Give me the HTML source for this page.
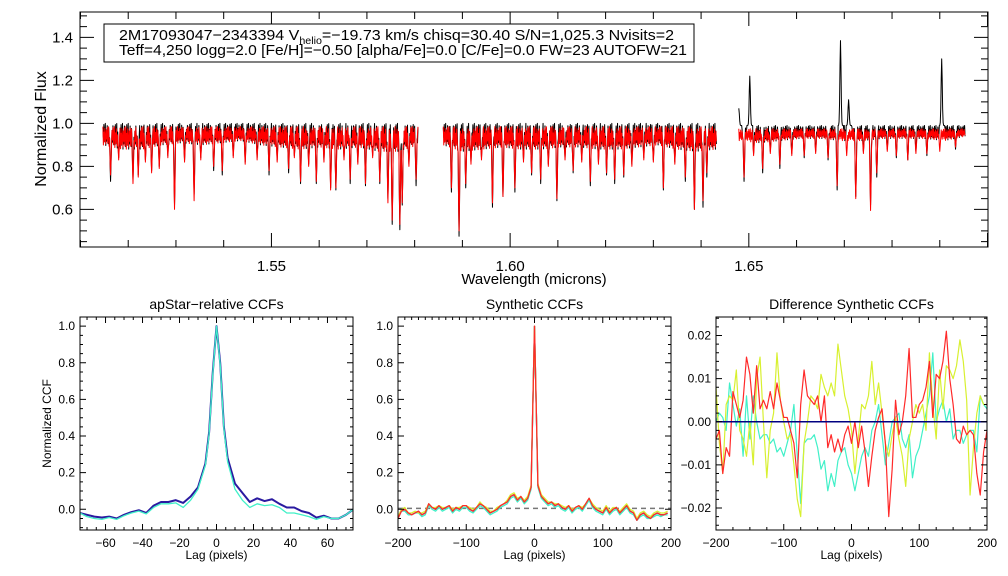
<!DOCTYPE html>
<html><head><meta charset="utf-8"><style>
html,body{margin:0;padding:0;background:#fff;}
svg{display:block;font-family:"Liberation Sans",sans-serif;}
</style></head><body>
<svg id="fig" width="1008" height="576" viewBox="0 0 1008 576" xmlns="http://www.w3.org/2000/svg">
<rect x="0" y="0" width="1008" height="576" fill="#fff"/>
<g id="top"></g>
<g id="p1"></g>
<g id="p2"></g>
<g id="p3"></g>
</svg>
<script>
// ---------- Spectrum data ----------
const chipStart = [1.5147, 1.5860, 1.6479];
const chipEnd   = [1.5807, 1.6432, 1.6953];
const chipContRed   = [0.985, 0.985, 0.975];
const chipContBlack = [1.0, 1.0, 0.99];
const envChip1 = [0.90,0.88,0.88,0.90,0.91,0.90,0.91,0.92,0.90,0.89,0.88,0.89,0.88,0.89,0.87,0.87,0.90];
const envChip2 = [0.90,0.87,0.88,0.89,0.88,0.88,0.89,0.89,0.88,0.88,0.89,0.90,0.88,0.87,0.88];
const envChip3 = [0.92,0.91,0.92,0.93,0.93,0.92,0.92,0.93,0.93,0.93,0.92,0.94];
const lineWave = [1.5163,1.5210,1.5221,1.5249,1.5265,1.5297,1.5338,1.5379,1.5397,1.5495,1.5536,1.5561,1.5594,1.5624,1.5635,1.5665,1.5697,1.5727,1.5744,1.5753,1.5769,1.5774,1.5803,
 1.5877,1.5893,1.5907,1.5963,1.5985,1.6010,1.6045,1.6064,1.6098,1.6132,1.6168,1.6202,1.6219,1.6238,1.6321,1.6367,1.6386,1.6404,1.6412,
 1.6490,1.6510,1.6529,1.6565,1.6616,1.6666,1.6685,1.6724,1.6755,1.6768,1.6809,1.6833,1.6873,1.6933,
 1.5180,1.5236,1.5283,1.5318,1.5352,1.5420,1.5445,1.5470,1.5512,1.5548,1.5578,1.5610,1.5652,1.5681,1.5712,1.5788,1.5918,1.5940,1.6028,1.6080,1.6115,1.6150,1.6185,1.6255,1.6280,1.6300,1.6345,1.6545,1.6590,1.6640,1.6705,1.6740,1.6790,1.6850,1.6900];
const lineMinRed = [0.76,0.72,0.75,0.77,0.79,0.60,0.64,0.80,0.78,0.78,0.79,0.73,0.73,0.69,0.70,0.74,0.72,0.73,0.63,0.55,0.53,0.63,0.74,
 0.70,0.50,0.72,0.63,0.66,0.70,0.77,0.74,0.65,0.78,0.73,0.77,0.74,0.76,0.70,0.75,0.60,0.64,0.77,
 0.75,0.85,0.79,0.81,0.85,0.84,0.71,0.65,0.595,0.77,0.85,0.83,0.86,0.89,
 0.83,0.82,0.84,0.82,0.83,0.84,0.81,0.83,0.82,0.84,0.80,0.82,0.83,0.81,0.84,0.80,0.81,0.83,0.82,0.80,0.83,0.82,0.81,0.80,0.83,0.82,0.81,0.86,0.85,0.86,0.85,0.86,0.87,0.86,0.87];
const lineMinBlack = [0.73,0.74,0.76,0.78,0.80,0.62,0.67,0.78,0.76,0.76,0.77,0.72,0.72,0.70,0.69,0.72,0.71,0.72,0.65,0.53,0.505,0.62,0.71,
 0.68,0.475,0.70,0.61,0.66,0.68,0.76,0.72,0.64,0.77,0.71,0.76,0.72,0.75,0.69,0.73,0.60,0.61,0.75,
 0.73,0.86,0.77,0.79,0.84,0.83,0.69,0.66,0.62,0.75,0.84,0.83,0.85,0.88,
 0.84,0.83,0.85,0.83,0.84,0.85,0.82,0.84,0.83,0.85,0.81,0.83,0.84,0.82,0.85,0.81,0.82,0.84,0.83,0.81,0.84,0.83,0.82,0.81,0.84,0.83,0.82,0.87,0.86,0.87,0.86,0.87,0.88,0.87,0.88];
const spikeWave = [1.6479,1.6502,1.6692,1.6709,1.6904];
const spikePeak = [1.07,1.22,1.385,1.11,1.30];
const topXTicks = ["1.55","1.60","1.65"];
const topYTicks = ["0.6","0.8","1.0","1.2","1.4"];

// ---------- CCF data ----------
const p1Lag = [-74,-70,-66,-62,-58,-54,-50,-46,-42,-38,-34,-30,-26,-22,-18,-14,-10,-6,-4,-2,0,2,4,6,10,14,18,22,26,30,34,38,42,46,50,54,58,62,66,70,74];
const p1Blue = [-0.02,-0.03,-0.04,-0.045,-0.04,-0.05,-0.03,-0.015,-0.005,-0.02,0.02,0.04,0.04,0.05,0.035,0.07,0.12,0.25,0.42,0.75,1.0,0.8,0.45,0.28,0.14,0.09,0.04,0.06,0.045,0.055,0.03,0.01,0.01,-0.01,-0.02,-0.045,-0.035,-0.05,-0.05,-0.03,0.0];
const p1Cyan = [-0.02,-0.04,-0.05,-0.055,-0.045,-0.055,-0.035,-0.02,-0.01,-0.025,0.01,0.03,0.03,0.035,0.01,0.05,0.11,0.24,0.41,0.74,1.0,0.79,0.44,0.26,0.11,0.05,0.01,0.03,0.02,0.025,0.01,-0.02,-0.02,-0.03,-0.04,-0.055,-0.04,-0.05,-0.05,-0.03,0.0];
const p1XTicks = [-60,-40,-20,0,20,40,60];
const p1YTicks = ["0.0","0.2","0.4","0.6","0.8","1.0"];

const p2Lag = [-200,-195,-190,-185,-180,-175,-170,-165,-160,-155,-150,-145,-140,-135,-130,-125,-120,-115,-110,-105,-100,-95,-90,-85,-80,-75,-70,-65,-60,-55,-50,-45,-40,-35,-30,-25,-20,-15,-10,-5,0,5,10,15,20,25,30,35,40,45,50,55,60,65,70,75,80,85,90,95,100,105,110,115,120,125,130,135,140,145,150,155,160,165,170,175,180,185,190,195,200];
const p2Red = [-0.05,-0.01,0.0,-0.02,-0.03,-0.02,-0.01,-0.03,-0.02,0.03,0.01,0.0,0.02,0.0,0.01,0.02,-0.01,0.01,0.0,0.02,
 0.02,0.0,-0.01,0.01,0.03,0.02,0.0,-0.02,-0.01,0.0,0.02,0.03,0.04,0.07,0.08,0.05,0.07,0.04,0.06,0.12,
 1.0,0.13,0.07,0.05,0.03,0.04,0.02,0.03,0.01,0.0,0.02,-0.01,0.01,0.02,0.0,0.03,0.06,0.02,0.0,-0.01,
 -0.02,0.01,-0.02,0.0,0.01,-0.02,0.0,0.02,-0.01,-0.02,-0.06,-0.03,-0.02,-0.04,-0.05,-0.03,-0.02,-0.03,-0.03,-0.02];
const p2Yellow = [-0.04,0.0,0.01,-0.02,-0.02,-0.01,-0.02,-0.02,-0.01,0.03,0.01,0.01,0.02,0.01,0.01,0.02,0.0,0.01,0.01,0.02,
 0.02,0.01,0.0,0.01,0.04,0.02,0.01,-0.01,-0.01,0.01,0.02,0.03,0.05,0.08,0.09,0.06,0.07,0.05,0.07,0.13,
 1.0,0.14,0.08,0.06,0.04,0.04,0.03,0.03,0.02,0.01,0.02,0.0,0.01,0.02,0.01,0.03,0.06,0.03,0.01,0.0,
 -0.01,0.02,-0.01,0.01,0.01,-0.01,0.01,0.03,0.0,-0.01,-0.05,-0.02,-0.01,-0.03,-0.04,-0.02,-0.01,-0.02,-0.02,-0.01];
const p2Cyan = [-0.05,-0.01,-0.01,-0.03,-0.03,-0.02,-0.02,-0.04,-0.03,0.02,0.0,-0.01,0.01,-0.01,0.0,0.01,-0.02,0.0,-0.01,0.01,
 0.01,-0.01,-0.02,0.0,0.02,0.01,-0.01,-0.03,-0.02,-0.01,0.01,0.02,0.03,0.06,0.07,0.04,0.06,0.03,0.05,0.11,
 1.0,0.12,0.06,0.04,0.02,0.03,0.01,0.02,0.0,-0.01,0.01,-0.02,0.0,0.01,-0.01,0.02,0.05,0.01,-0.01,-0.02,
 -0.03,0.0,-0.03,-0.01,0.0,-0.03,-0.01,0.01,-0.02,-0.03,-0.06,-0.04,-0.03,-0.05,-0.05,-0.04,-0.03,-0.04,-0.03,-0.03];
const p2Blue = [-0.05,-0.01,0.0,-0.02,-0.03,-0.02,-0.01,-0.03,-0.02,0.03,0.01,0.0,0.02,0.0,0.01,0.02,-0.01,0.01,0.0,0.02,
 0.02,0.0,-0.01,0.01,0.03,0.02,0.0,-0.02,-0.01,0.0,0.02,0.03,0.04,0.07,0.08,0.05,0.07,0.04,0.06,0.12,
 1.0,0.13,0.07,0.05,0.03,0.04,0.02,0.03,0.01,0.0,0.02,-0.01,0.01,0.02,0.0,0.03,0.06,0.02,0.0,-0.01,
 -0.02,0.01,-0.02,0.0,0.01,-0.02,0.0,0.02,-0.01,-0.02,-0.06,-0.03,-0.02,-0.04,-0.05,-0.03,-0.02,-0.03,-0.03,-0.02];
const p2XTicks = [-200,-100,0,100,200];
const p2YTicks = ["0.0","0.2","0.4","0.6","0.8","1.0"];

const p3Lag = p2Lag;
const p3Red = [-0.004,-0.002,-0.012,-0.006,-0.008,0.007,0.004,0.001,0.005,0.015,0.011,0.002,0.013,0.003,0.005,0.003,0.007,0.003,0.009,0.005,
 0.001,0.001,-0.002,-0.005,-0.013,0.004,0.012,0.006,0.005,0.004,0.006,0.0,0.006,-0.006,-0.003,-0.007,-0.004,-0.007,-0.003,-0.001,
 -0.005,0.0,-0.006,-0.001,-0.007,-0.015,-0.008,-0.002,0.001,0.003,-0.005,-0.022,-0.011,0.005,-0.003,0.0,0.006,0.017,0.001,0.001,
 0.004,0.005,0.008,0.014,0.001,0.011,0.01,0.014,0.021,0.01,0.004,-0.004,-0.005,-0.001,-0.003,-0.002,-0.003,-0.012,-0.017,-0.007,-0.002];
const p3Yellow = [0.008,-0.005,-0.012,0.004,0.006,0.005,0.012,-0.002,-0.004,-0.008,0.0,-0.01,0.01,0.015,0.0,-0.013,-0.002,0.002,0.016,0.005,
 0.0,-0.004,-0.003,-0.01,-0.018,-0.022,-0.005,0.0,0.006,0.005,0.003,0.011,0.008,0.006,0.009,0.006,0.018,0.012,0.006,0.003,
 -0.002,-0.012,-0.004,0.004,0.003,0.006,0.014,0.004,0.009,0.002,-0.005,-0.008,-0.003,0.001,-0.004,-0.008,-0.015,-0.004,0.0,0.004,
 0.002,0.004,-0.002,0.016,0.004,-0.004,0.012,0.003,0.013,0.012,0.01,0.013,0.019,0.014,0.005,-0.017,-0.006,0.002,0.006,0.004,0.004];
const p3Cyan = [0.0,0.002,0.001,-0.002,0.009,0.004,-0.001,0.003,-0.008,0.006,-0.004,0.006,0.0,-0.004,-0.003,-0.003,-0.005,-0.004,-0.007,-0.006,
 -0.008,-0.005,-0.002,0.004,-0.008,-0.019,-0.005,-0.004,-0.004,-0.003,-0.006,-0.011,-0.009,-0.016,-0.012,-0.015,-0.009,-0.007,-0.006,-0.01,
 -0.012,-0.016,-0.012,-0.008,-0.006,-0.008,-0.002,0.0,0.004,-0.003,-0.01,-0.005,0.0,0.001,0.002,-0.004,-0.006,-0.003,-0.013,-0.008,
 -0.006,-0.002,0.002,0.006,0.016,0.0,0.003,0.005,0.0,0.003,-0.004,-0.002,-0.002,-0.005,-0.003,-0.002,-0.002,-0.007,0.006,0.004,0.003];
const p3XTicks = [-200,-100,0,100,200];
const p3YTicks = ["-0.02","-0.01","0.00","0.01","0.02"];

// ---------- helpers ----------
const NS = "http://www.w3.org/2000/svg";
function el(parent, tag, attrs){ const e=document.createElementNS(NS,tag); for(const k in attrs) e.setAttribute(k,attrs[k]); parent.appendChild(e); return e; }
function linScale(d0,d1,r0,r1){ return v => r0 + (v-d0)*(r1-r0)/(d1-d0); }

function frame(g, X0,X1,Y0,Y1, xs, ys, xmaj, xmin, ymaj, ymin, Lmaj, Lmin, xr, yr){
  const r = el(g,'rect',{x:X0,y:Y0,width:X1-X0,height:Y1-Y0,fill:'none',stroke:'#000','stroke-width':1});
  
  
  let d='';
  const eps=1e-9;
  for(let v=Math.ceil(xr[0]/xmin-eps)*xmin; v<=xr[1]+eps; v+=xmin){
    const isMaj = Math.abs(v/xmaj-Math.round(v/xmaj))<1e-6;
    const L=isMaj?Lmaj:Lmin, x=xs(v);
    d+=`M${x},${Y1}v${-L}M${x},${Y0}v${L}`;
  }
  for(let v=Math.ceil(yr[0]/ymin-eps)*ymin; v<=yr[1]+eps; v+=ymin){
    const isMaj = Math.abs(v/ymaj-Math.round(v/ymaj))<1e-6;
    const L=isMaj?Lmaj:Lmin, y=ys(v);
    d+=`M${X0},${y}h${L}M${X1},${y}h${-L}`;
  }
  const t = el(g,'path',{d:d,stroke:'#000','stroke-width':1,fill:'none'});
  
  
}
function label(g, x, y, txt, size, anchor, name){
  const t = el(g,'text',{x:x,y:y,'font-size':size,'text-anchor':anchor||'middle',fill:'#000'});
  t.textContent = txt;
  
  
  return t;
}
function polyline(g, pts, color, width, name){
  const p = el(g,'polyline',{points:pts.map(p=>p[0].toFixed(2)+','+p[1].toFixed(2)).join(' '),fill:'none',stroke:color,'stroke-width':width,'stroke-linejoin':'round'});
  
  
  return p;
}

// ---------- top spectrum ----------
(function(){
  const g = document.getElementById('top');
  const X0=80,X1=988,Y0=12,Y1=247;
  const xr=[1.5099,1.7001], yr=[0.425,1.518];
  const xs=linScale(xr[0],xr[1],X0,X1), ys=linScale(yr[0],yr[1],Y1,Y0);
  const envs=[envChip1,envChip2,envChip3];
  const pattern=[0,1,0.3,0.8,0.1,0.55,0.9,0.2,0.65,0.05,0.85,0.4];
  const sig=0.00012;
  function spectrum(c, cont, mins, phase, withSpikes){
    const pts=[]; const env=envs[c];
    const a=chipStart[c], b=chipEnd[c]; let i=0;
    for(let w=a; w<=b+1e-9; w+=0.0001, i++){
      const fpos=(w-a)/(b-a)*(env.length-1);
      const k=Math.min(env.length-2,Math.floor(fpos)), fr=fpos-k;
      const e=env[k]*(1-fr)+env[k+1]*fr;
      let f=cont-(cont-e)*pattern[(i+phase)%pattern.length];
      for(let j=0;j<lineWave.length;j++){
        const dw=w-lineWave[j]; if(Math.abs(dw)>0.0006) continue;
        const gg=Math.exp(-0.5*(dw/sig)*(dw/sig));
        f=Math.min(f, cont-(cont-mins[j])*gg);
      }
      if(withSpikes){
        for(let j=0;j<spikeWave.length;j++){
          const dw=w-spikeWave[j]; if(Math.abs(dw)>0.0006) continue;
          const gg=Math.exp(-0.5*(dw/sig)*(dw/sig));
          f=Math.max(f, cont+(spikePeak[j]-cont)*gg);
        }
      }
      pts.push([xs(w),ys(f)]);
    }
    return pts;
  }
  for(let c=0;c<3;c++){
    polyline(g, spectrum(c, chipContBlack[c], lineMinBlack, 7, true), '#000', 1, 'observed-spectrum-chip'+(c+1));
  }
  for(let c=0;c<3;c++){
    polyline(g, spectrum(c, chipContRed[c], lineMinRed, 0, false), '#ff0000', 1, 'model-spectrum-chip'+(c+1));
  }
  frame(g,X0,X1,Y0,Y1,xs,ys,0.05,0.01,0.2,0.05,14,7,xr,yr);
  topXTicks.forEach(t=>label(g,xs(parseFloat(t)),271,t,15,'middle','x-tick-label'));
  topYTicks.forEach(t=>label(g,73,ys(parseFloat(t))+5,t,15,'end','y-tick-label'));
  label(g,534,284,'Wavelength (microns)',15,'middle','x-axis-title');
  const yt=label(g,0,0,'Normalized Flux',16,'middle','y-axis-title');
  yt.setAttribute('transform','translate(46,129) rotate(-90)');
  const box=el(g,'rect',{x:104,y:24,width:590,height:38,fill:'#fff',stroke:'#000','stroke-width':1});
  
  
  const l1=el(g,'text',{x:119,y:40,'font-size':15,fill:'#000',textLength:555,lengthAdjust:'spacingAndGlyphs'});
  
  
  l1.innerHTML='2M17093047\u22122343394  V<tspan font-size="10" dy="4">helio</tspan><tspan dy="-4">=\u221219.73 km/s  chisq=30.40  S/N=1,025.3  Nvisits=2</tspan>';
  const l2=el(g,'text',{x:119,y:55,'font-size':15,fill:'#000',textLength:568,lengthAdjust:'spacingAndGlyphs'});
  
  
  l2.textContent='Teff=4,250 logg=2.0 [Fe/H]=\u22120.50 [alpha/Fe]=0.0 [C/Fe]=0.0 FW=23 AUTOFW=21';
})();

// ---------- CCF panels ----------
function ccfPanel(id, X0,X1, xr, yr, xmaj,xmin,ymaj,ymin, xticks, yticks, title, ylab){
  const g=document.getElementById(id);
  const Y0=317,Y1=530;
  const xs=linScale(xr[0],xr[1],X0,X1), ys=linScale(yr[0],yr[1],Y1,Y0);
  const cp=el(g,'clipPath',{id:'clip'+id}); el(cp,'rect',{x:X0,y:Y0,width:X1-X0,height:Y1-Y0});
  const inner=el(g,'g',{'clip-path':'url(#clip'+id+')'});
  
  
  frame(g,X0,X1,Y0,Y1,xs,ys,xmaj,xmin,ymaj,ymin,6,3,xr,yr);
  xticks.forEach(t=>label(g,xs(t),547,(t<0?'\u2212'+(-t):''+t),12,'middle','x-tick-label'));
  yticks.forEach(t=>label(g,X0-5,ys(parseFloat(t))+4,t.replace('-','\u2212'),12,'end','y-tick-label'));
  label(g,(X0+X1)/2,309,title,14,'middle','panel-title');
  label(g,(X0+X1)/2,559,'Lag (pixels)',12,'middle','x-axis-title');
  if(ylab){ const t=label(g,0,0,ylab,12,'middle','y-axis-title'); t.setAttribute('transform',`translate(51,${(Y0+Y1)/2}) rotate(-90)`); }
  return {inner,xs,ys};
}
function series(p, lags, vals, color, w, name){
  polyline(p.inner, lags.map((l,i)=>[p.xs(l),p.ys(vals[i])]), color, w, name);
}
(function(){
  const p=ccfPanel('p1',80,353,[-73.8,73.8],[-0.113,1.05],20,5,0.2,0.05,p1XTicks,p1YTicks,'apStar\u2212relative CCFs','Normalized CCF');
  series(p,p1Lag,p1Blue,'#2a1aa0',2,'ccf-visit-blue');
  series(p,p1Lag,p1Cyan,'#40f0c8',1.3,'ccf-visit-cyan');
})();
(function(){
  const p=ccfPanel('p2',398,671,[-200,200],[-0.113,1.05],100,10,0.2,0.05,p2XTicks,p2YTicks,'Synthetic CCFs',null);
  const z=el(p.inner,'line',{x1:398,x2:671,y1:p.ys(0.005),y2:p.ys(0.005),stroke:'#777','stroke-width':1.5,'stroke-dasharray':'5,4'});
  
  
  series(p,p2Lag,p2Blue,'#2a1aa0',1.3,'ccf-synthetic-blue');
  series(p,p2Lag,p2Cyan,'#40f0c8',1.3,'ccf-synthetic-cyan');
  series(p,p2Lag,p2Yellow,'#d8f030',1.3,'ccf-synthetic-yellow');
  series(p,p2Lag,p2Red,'#ff2a2a',1.3,'ccf-synthetic-red');
})();
(function(){
  const p=ccfPanel('p3',716,987,[-200,200],[-0.0251,0.0243],100,25,0.01,0.002,p3XTicks,p3YTicks,'Difference Synthetic CCFs',null);
  series(p,p3Lag,p3Cyan,'#40f0c8',1.2,'diff-ccf-cyan');
  series(p,p3Lag,p3Yellow,'#d8f030',1.2,'diff-ccf-yellow');
  series(p,p3Lag,p3Red,'#ff2a2a',1.2,'diff-ccf-red');
  const z=el(p.inner,'line',{x1:716,x2:987,y1:p.ys(0),y2:p.ys(0),stroke:'#000080','stroke-width':1.5});
  
  
})();
</script>
</body></html>
